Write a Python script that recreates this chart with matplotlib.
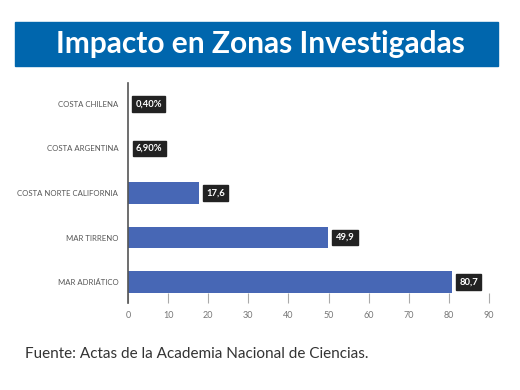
import matplotlib.pyplot as plt
from matplotlib.patches import Rectangle

zonas = ['COSTA CHILENA', 'COSTA ARGENTINA', 'COSTA NORTE CALIFORNIA', 'MAR TIRRENO', 'MAR ADRIÁTICO']
# the two coastal percentages are plotted as fractions in the original, so their bars are tiny
valores = [0.004, 0.069, 17.6, 49.9, 80.7]
etiquetas = ['0,40%', '6,90%', '17,6', '49,9', '80,7']
xticks = [0, 10, 20, 30, 40, 50, 60, 70, 80, 90]

plt.rcParams['font.family'] = ['Lato', 'DejaVu Sans']

fig = plt.figure(figsize=(5.2, 3.9), dpi=100)

# banner
fig.patches.append(Rectangle((15 / 520, 1 - 66 / 390), 483 / 520, 44 / 390,
                             transform=fig.transFigure, color='#0066ad', zorder=0))
fig.text(0.5, 1 - 44 / 390, 'Impacto en Zonas Investigadas', ha='center', va='center',
         color='white', fontsize=21.5, fontweight='bold')

ax = fig.add_axes([128 / 520, 1 - 303 / 390, 361 / 520, 220 / 390])
pos = list(range(len(zonas)))
ax.barh(pos, valores, height=0.48, color='#4767b5')
ax.set_xlim(0, 90)
ax.set_ylim(len(zonas) - 0.53, -0.47)
ax.set_yticks(pos)
ax.set_yticklabels(zonas, fontsize=5.6, color='#555555')
ax.set_xticks(xticks)
ax.set_xticklabels([str(t) for t in xticks], fontsize=6.5, color='#777777')
ax.tick_params(axis='y', length=0, pad=7)
ax.tick_params(axis='x', direction='in', length=7, color='#aaaaaa', pad=6)
for s in ['top', 'right', 'bottom']:
    ax.spines[s].set_visible(False)
ax.spines['left'].set_color('#555555')
ax.spines['left'].set_linewidth(1.2)

for p, v, t in zip(pos, valores, etiquetas):
    ax.annotate(t, (v, p), xytext=(5.5, 0), textcoords='offset points', ha='left', va='center',
                fontsize=6.8, fontweight='bold', color='white',
                bbox=dict(boxstyle='square,pad=0.35', fc='#222222', ec='#222222'))

fig.text(25 / 520, 1 - 354 / 390, 'Fuente: Actas de la Academia Nacional de Ciencias.',
         ha='left', va='center', fontsize=11, color='#333333')

fig.savefig('out.png', dpi=100)
